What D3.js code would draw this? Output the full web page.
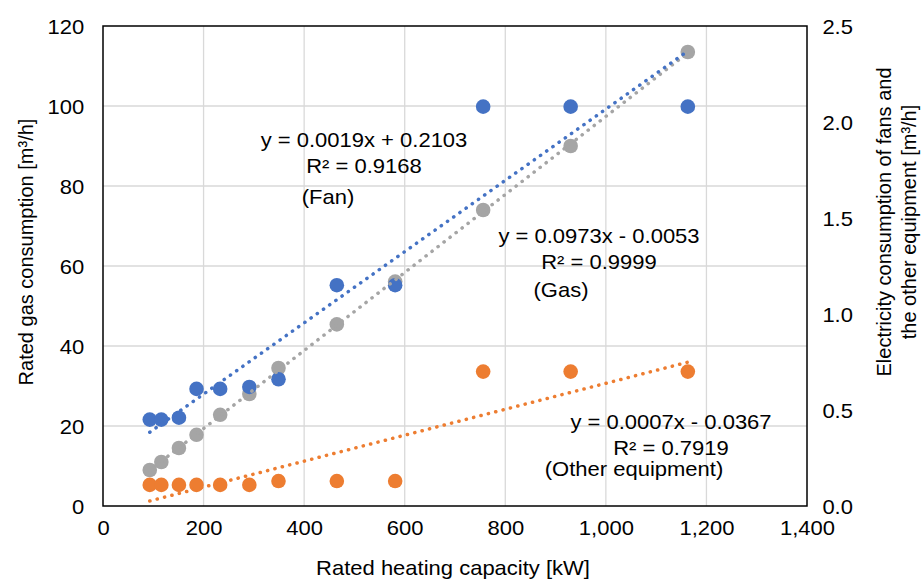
<!DOCTYPE html>
<html>
<head>
<meta charset="utf-8">
<script src="https://cdn.jsdelivr.net/npm/d3@7"></script>
<style>
  html, body { margin: 0; padding: 0; background: #ffffff; }
  svg { display: block; }
  text { font-family: "Liberation Sans", Arial, sans-serif; fill: #000; }
</style>
</head>
<body>
<svg id="chart" width="924" height="580"></svg>
<script>
// ---------------- data ----------------
const capacity = [93, 116, 151, 186, 233, 291, 349, 465, 581, 756, 930, 1163];
const gasUse   = [9.0, 11.0, 14.5, 17.8, 22.8, 28.0, 34.5, 45.4, 56.1, 74.0, 90.0, 113.5];
const fanUse   = [0.45, 0.45, 0.46, 0.61, 0.61, 0.62, 0.66, 1.15, 1.15, 2.08, 2.08, 2.08];
const otherUse = [0.11, 0.11, 0.11, 0.11, 0.11, 0.11, 0.13, 0.13, 0.13, 0.70, 0.70, 0.70];

const xTicks      = [0, 200, 400, 600, 800, 1000, 1200, 1400];
const yLeftTicks  = [0, 20, 40, 60, 80, 100, 120];
const yRightTicks = [0, 0.5, 1.0, 1.5, 2.0, 2.5];

// trendline labels as printed in the chart (gas, fan, other)
const trendNames     = ["(Gas)", "(Fan)", "(Other equipment)"];
const trendSlope     = [0.0973, 0.0019, 0.0007];
const trendIntercept = [-0.0053, 0.2103, -0.0367];
const trendR2        = ["0.9999", "0.9168", "0.7919"];

const xTitle      = "Rated heating capacity [kW]";
const yLeftTitle  = "Rated gas consumption [m\u00B3/h]";
const yRightTitle = ["Electricity consumption of fans and", "the other equipment [m\u00B3/h]"];

// ---------------- layout ----------------
const L = 103, R = 807, T = 26, B = 506;
const SX = 1.1;          // horizontal text stretch seen in the reference
const FS = 20;           // font size

const colors = { gas: "#a5a5a5", fan: "#4472c4", other: "#ed7d31" };

const svg = d3.select("#chart");

const x  = d3.scaleLinear().domain([0, 1400]).range([L, R]);
const yL = d3.scaleLinear().domain([0, 120]).range([B, T]);
const yR = d3.scaleLinear().domain([0, 2.5]).range([B, T]);

// gridlines
const grid = svg.append("g");
grid.selectAll("line.v").data(xTicks.filter(d => d > 0 && d < 1400)).enter()
  .append("line")
  .attr("x1", d => x(d)).attr("x2", d => x(d))
  .attr("y1", T).attr("y2", B)
  .attr("stroke", "#d9d9d9").attr("stroke-width", 1.3);
grid.selectAll("line.h").data(yLeftTicks.filter(d => d > 0 && d < 120)).enter()
  .append("line")
  .attr("x1", L).attr("x2", R)
  .attr("y1", d => yL(d)).attr("y2", d => yL(d))
  .attr("stroke", "#d9d9d9").attr("stroke-width", 1.3);

// axes (labels only; box drawn separately)
function styleTicks(g) {
  g.select(".domain").remove();
  g.selectAll("text")
    .attr("transform", `scale(${SX},1)`)
    .style("font-size", FS + "px")
    .style("font-family", "Liberation Sans, Arial, sans-serif")
    .attr("fill", "#000");
}
const gx = svg.append("g").attr("transform", `translate(0,${B})`)
  .call(d3.axisBottom(x).tickValues(xTicks).tickSize(0).tickFormat(d3.format(",")));
styleTicks(gx);
gx.selectAll("text").attr("y", 29).attr("dy", 0);

const gyl = svg.append("g").attr("transform", `translate(${L},0)`)
  .call(d3.axisLeft(yL).tickValues(yLeftTicks).tickSize(0).tickFormat(d3.format("d")));
styleTicks(gyl);
gyl.selectAll("text").attr("x", -17).attr("dy", "0.35em");

const gyr = svg.append("g").attr("transform", `translate(${R},0)`)
  .call(d3.axisRight(yR).tickValues(yRightTicks).tickSize(0).tickFormat(d3.format(".1f")));
styleTicks(gyr);
gyr.selectAll("text").attr("x", 14).attr("dy", "0.35em");

// plot border
svg.append("rect")
  .attr("x", L).attr("y", T).attr("width", R - L).attr("height", B - T)
  .attr("fill", "none").attr("stroke", "#000").attr("stroke-width", 1.5);

// markers
const series = [
  { vals: gasUse,   ys: yL, color: colors.gas },
  { vals: fanUse,   ys: yR, color: colors.fan },
  { vals: otherUse, ys: yR, color: colors.other }
];
const markerR = 7.3;
series.forEach(s => {
  svg.append("g").selectAll("circle").data(capacity.map((c, i) => [c, s.vals[i]])).enter()
    .append("circle")
    .attr("cx", d => x(d[0])).attr("cy", d => s.ys(d[1]))
    .attr("r", markerR).attr("fill", s.color);
});

// least-squares linear trendlines (as the spreadsheet computes them)
function linFit(xs, ys) {
  const mx = d3.mean(xs), my = d3.mean(ys);
  let sxy = 0, sxx = 0;
  xs.forEach((v, i) => { sxy += (v - mx) * (ys[i] - my); sxx += (v - mx) * (v - mx); });
  const m = sxy / sxx;
  return { m, b: my - m * mx };
}
const xMin = d3.min(capacity), xMax = d3.max(capacity);
const line = d3.line();
series.forEach(s => {
  const f = linFit(capacity, s.vals);
  const seg = [xMin, xMax].map(v => [x(v), s.ys(f.m * v + f.b)]);
  svg.append("path")
    .attr("d", line(seg))
    .attr("fill", "none")
    .attr("stroke", s.color)
    .attr("stroke-width", 3.5)
    .attr("stroke-linecap", "round")
    .attr("stroke-dasharray", "0.2 7.4");
});

// helper for horizontally-stretched text
function stext(str, px, py, anchor) {
  return svg.append("text")
    .attr("transform", `translate(${px},${py}) scale(${SX},1)`)
    .attr("text-anchor", anchor || "middle")
    .style("font-size", FS + "px")
    .text(str);
}

// trendline labels
const eqText = i => {
  const b = trendIntercept[i];
  return `y = ${trendSlope[i].toFixed(4)}x ${b < 0 ? "-" : "+"} ${Math.abs(b).toFixed(4)}`;
};
const labelPos = [
  { cx: 599, y1: 243, nx: 561, ny: 297 },   // gas
  { cx: 364, y1: 147, nx: 328, ny: 204 },   // fan
  { cx: 671, y1: 429, nx: 634, ny: 476 }    // other
];
labelPos.forEach((p, i) => {
  stext(eqText(i), p.cx, p.y1, "middle");
  stext(`R\u00B2 = ${trendR2[i]}`, p.cx, p.y1 + 26, "middle");
  stext(trendNames[i], p.nx, p.ny, "middle");
});

// axis titles
stext(xTitle, 453, 575, "middle");

svg.append("text")
  .attr("transform", `translate(26,252) rotate(-90)`)
  .attr("text-anchor", "middle")
  .attr("dominant-baseline", "central")
  .style("font-size", FS + "px")
  .text(yLeftTitle);

yRightTitle.forEach((t, i) => {
  svg.append("text")
    .attr("transform", `translate(${884 + i * 25},222) rotate(-90)`)
    .attr("text-anchor", "middle")
    .attr("dominant-baseline", "central")
    .style("font-size", FS + "px")
    .text(t);
});
</script>
</body>
</html>
